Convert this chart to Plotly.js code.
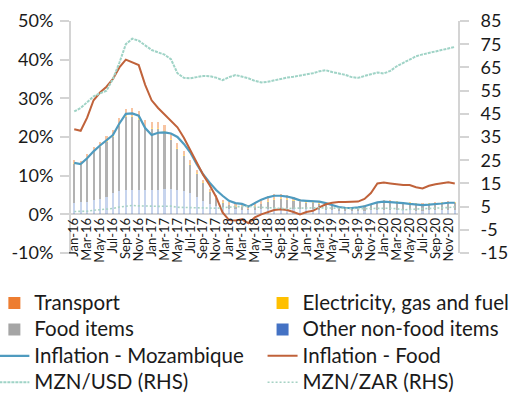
<!DOCTYPE html>
<html><head><meta charset="utf-8">
<script src="https://cdn.plot.ly/plotly-3.0.1.min.js"></script>
<style>html,body{margin:0;padding:0;background:#fff}#chart{width:522px;height:401px}</style>
</head><body><div id="chart"></div>
<script>
const months = ['Jan-16','Feb-16','Mar-16','Apr-16','May-16','Jun-16','Jul-16','Aug-16','Sep-16','Oct-16','Nov-16','Dec-16',
'Jan-17','Feb-17','Mar-17','Apr-17','May-17','Jun-17','Jul-17','Aug-17','Sep-17','Oct-17','Nov-17','Dec-17',
'Jan-18','Feb-18','Mar-18','Apr-18','May-18','Jun-18','Jul-18','Aug-18','Sep-18','Oct-18','Nov-18','Dec-18',
'Jan-19','Feb-19','Mar-19','Apr-19','May-19','Jun-19','Jul-19','Aug-19','Sep-19','Oct-19','Nov-19','Dec-19',
'Jan-20','Feb-20','Mar-20','Apr-20','May-20','Jun-20','Jul-20','Aug-20','Sep-20','Oct-20','Nov-20','Dec-20'];
const xTickLabels = ['Jan-16','Mar-16','May-16','Jul-16','Sep-16','Nov-16','Jan-17','Mar-17','May-17','Jul-17','Sep-17','Nov-17',
'Jan-18','Mar-18','May-18','Jul-18','Sep-18','Nov-18','Jan-19','Mar-19','May-19','Jul-19','Sep-19','Nov-19',
'Jan-20','Mar-20','May-20','Jul-20','Sep-20','Nov-20'];
const leftTickVals = [-10,0,10,20,30,40,50];
const leftTickText = ['-10%','0%','10%','20%','30%','40%','50%'];
const rightTickVals = [-15,-5,5,15,25,35,45,55,65,75,85];
const rightTickText = ['-15','-5','5','15','25','35','45','55','65','75','85'];

// contributions (percentage points)
const otherNonFood = [3.0,3.1,3.3,3.6,4.0,4.6,5.5,6.0,6.3,6.4,6.3,6.2,6.3,6.4,6.5,6.5,6.3,6.0,5.5,4.5,3.5,2.8,2.2,1.8,
1.5,1.3,1.2,1.1,1.2,1.4,1.5,1.6,1.6,1.6,1.5,1.4,1.3,1.3,1.2,1.1,1.0,0.9,0.8,0.8,0.8,0.9,1.0,1.1,
1.2,1.2,1.1,1.0,1.0,0.9,0.9,1.0,1.0,1.1,1.1,1.1];
const foodItems = [10.0,9.6,11.1,12.5,13.4,14.0,14.4,16.8,18.8,18.7,18.2,16.1,15.7,15.7,14.7,12.8,10.6,9.1,7.3,6.0,4.6,2.9,2.0,1.1,
0.8,0.7,0.6,0.2,0.7,1.2,1.8,2.1,2.3,2.1,2.0,1.7,1.7,1.6,1.6,1.4,1.2,0.9,0.9,0.8,0.9,1.0,1.4,1.8,
2.0,2.0,2.1,2.1,1.9,1.8,1.7,1.7,1.8,1.8,1.9,1.8];
const electricity = [0.4,0.4,0.4,0.4,0.4,0.4,0.4,0.4,0.4,0.4,0.4,0.4,0.3,0.3,0.3,0.3,0.3,0.3,0.3,0.3,0.3,0.3,0.3,0.3,
0.2,0.2,0.2,0.2,0.2,0.2,0.2,0.2,0.2,0.2,0.2,0.2,0.2,0.2,0.2,0.2,0.2,0.2,0.2,0.2,0.2,0.2,0.2,0.2,
0.2,0.2,0.2,0.2,0.2,0.2,0.2,0.2,0.2,0.2,0.2,0.2];
const transport = [0.6,0.6,0.7,0.8,1.0,1.2,1.4,1.6,1.8,1.9,1.9,1.8,1.7,1.6,1.5,1.4,1.3,1.1,0.9,0.7,0.6,0.5,0.5,0.6,
0.7,0.8,0.9,1.0,1.1,1.2,1.3,1.3,1.2,1.1,0.9,0.7,0.5,0.4,0.3,0.3,0.2,0.2,0.1,0.1,0.1,0.2,0.2,0.2,
0.2,0.2,0.1,0.0,0.0,0.1,0.1,0.1,0.1,0.2,0.2,0.2];

// inflation (%)
const inflationMoz = [13.3,13.0,14.5,16.3,17.8,19.2,20.5,23.5,26.0,26.1,25.5,22.3,20.5,21.1,21.2,20.9,20.0,18.2,16.0,13.0,10.3,8.2,6.3,4.8,
3.5,2.9,2.7,2.0,3.0,3.8,4.4,4.8,4.8,4.6,4.2,3.6,3.5,3.4,3.3,2.9,2.5,1.9,1.7,1.6,1.8,2.1,2.6,3.1,
3.3,3.2,3.1,2.9,2.7,2.5,2.4,2.5,2.6,2.8,3.0,3.0];
const inflationFood = [22.0,21.6,25.0,29.5,31.5,33.0,35.0,38.0,40.0,39.3,38.6,33.5,29.5,27.5,25.8,24.0,22.5,19.8,16.5,13.5,10.2,7.5,4.5,0.5,
-1.5,-1.6,-1.3,-2.3,-0.8,0.0,0.6,1.1,1.3,1.1,0.6,0.0,0.6,0.9,1.8,2.6,3.0,3.2,3.2,3.2,3.3,4.0,5.5,8.0,
8.2,8.0,7.8,7.6,7.6,7.0,6.7,7.4,7.8,8.0,8.3,8.0];

// exchange rates (RHS)
const mznUsd = [46.0,47.5,50.0,52.5,53.8,55.0,60.0,67.0,75.0,77.4,76.5,74.5,72.5,71.5,70.5,68.5,62.5,60.5,60.3,60.8,61.3,61.2,60.6,59.5,
60.8,61.7,61.0,60.3,59.2,58.5,58.8,59.5,60.0,60.6,61.0,61.4,61.8,62.5,63.3,63.8,63.0,62.4,61.8,60.8,60.5,61.3,62.0,62.8,
62.4,63.5,65.5,67.0,68.4,69.8,70.6,71.3,72.0,72.6,73.2,73.8];
const mznZar = [2.9,2.8,3.0,3.4,3.6,3.8,4.2,4.8,5.3,5.5,5.3,5.1,5.2,5.1,5.2,5.2,4.7,4.6,4.6,4.7,4.6,4.5,4.3,4.5,
4.9,5.0,5.0,5.1,4.8,4.6,4.4,4.4,4.1,4.1,4.3,4.4,4.4,4.4,4.5,4.4,4.3,4.4,4.3,4.2,4.0,4.1,4.2,4.3,
4.4,4.3,4.1,3.6,3.8,3.9,4.1,4.2,4.3,4.4,4.6,4.9];

const FONT = 'Lato, "Open Sans", sans-serif';
const TXT = '#1a1a1a';
const AX = '#d4d4d4';
const L = s => '<span style="font-size:20.5px">' + s + '</span>';

const traces = [
  {type:'bar', name:L('Other non-food items'), x:months, y:otherNonFood, marker:{color:'#4472C4', opacity:0.3, line:{width:0}}, legend:'legend2', legendrank:4},
  {type:'bar', name:L('Food items'), x:months, y:foodItems, marker:{color:'#A5A5A5', opacity:0.85, line:{width:0}}, legend:'legend', legendrank:3},
  {type:'bar', name:L('Electricity, gas and fuel'), x:months, y:electricity, marker:{color:'#FFC000', opacity:0.5, line:{width:0}}, legend:'legend2', legendrank:2},
  {type:'bar', name:L('Transport'), x:months, y:transport, marker:{color:'#ED7D31', opacity:0.45, line:{width:0}}, legend:'legend', legendrank:1},
  {type:'scatter', mode:'lines', name:L('Inflation - Mozambique'), x:months, y:inflationMoz, line:{color:'#4f9bbf', width:2.2}, legend:'legend', legendrank:5},
  {type:'scatter', mode:'lines', name:L('Inflation - Food'), x:months, y:inflationFood, line:{color:'#c0623a', width:2}, legend:'legend2', legendrank:6},
  {type:'scatter', mode:'lines', name:L('MZN/USD (RHS)'), x:months, y:mznUsd, yaxis:'y2', line:{color:'#9fd3c6', width:2, dash:'3px,1px'}, legend:'legend', legendrank:7},
  {type:'scatter', mode:'lines', name:L('MZN/ZAR (RHS)'), x:months, y:mznZar, yaxis:'y2', line:{color:'#a6d2c4', width:1.6, dash:'2px,2px'}, legend:'legend2', legendrank:8}
];

const legendBase = {orientation:'v', xanchor:'left', yanchor:'top', bgcolor:'rgba(0,0,0,0)', borderwidth:0,
  font:{family:FONT, size:18, color:TXT}, itemwidth:30, tracegroupgap:0, traceorder:'normal'};

const layout = {
  width:522, height:401,
  margin:{l:71, r:64, t:21, b:148, pad:0, autoexpand:false},
  paper_bgcolor:'#ffffff', plot_bgcolor:'#ffffff',
  barmode:'stack', bargap:0.68,
  font:{family:FONT, size:18, color:TXT},
  showlegend:true,
  hovermode:false,
  xaxis:{type:'category', anchor:'free', position:1/6, range:[-0.5, 59.5], automargin:false,
    tickmode:'array', tickvals:xTickLabels, ticktext:xTickLabels, tickangle:-90,
    tickfont:{family:FONT, size:13, color:TXT}, ticks:'', showline:false, showgrid:false, zeroline:false},
  yaxis:{range:[-10,50], tickmode:'array', tickvals:leftTickVals, ticktext:leftTickText, automargin:false,
    showline:true, linecolor:AX, linewidth:2, ticks:'outside', ticklen:9, tickwidth:2, tickcolor:AX,
    showgrid:false, zeroline:true, zerolinecolor:AX, zerolinewidth:2, ticklabelstandoff:3,
    tickfont:{family:FONT, size:18, color:TXT}},
  yaxis2:{range:[-15,85], overlaying:'y', side:'right', tickmode:'array', tickvals:rightTickVals, ticktext:rightTickText, automargin:false,
    showline:true, linecolor:AX, linewidth:2, ticks:'outside', ticklen:9, tickwidth:2, tickcolor:AX,
    showgrid:false, zeroline:false, ticklabelstandoff:8,
    tickfont:{family:FONT, size:18, color:TXT}},
  legend:Object.assign({}, legendBase, {x:-0.198, y:-0.137}),
  legend2:Object.assign({}, legendBase, {x:0.495, y:-0.137})
};

Plotly.newPlot('chart', traces, layout, {displayModeBar:false, staticPlot:true});
</script>
</body></html>
